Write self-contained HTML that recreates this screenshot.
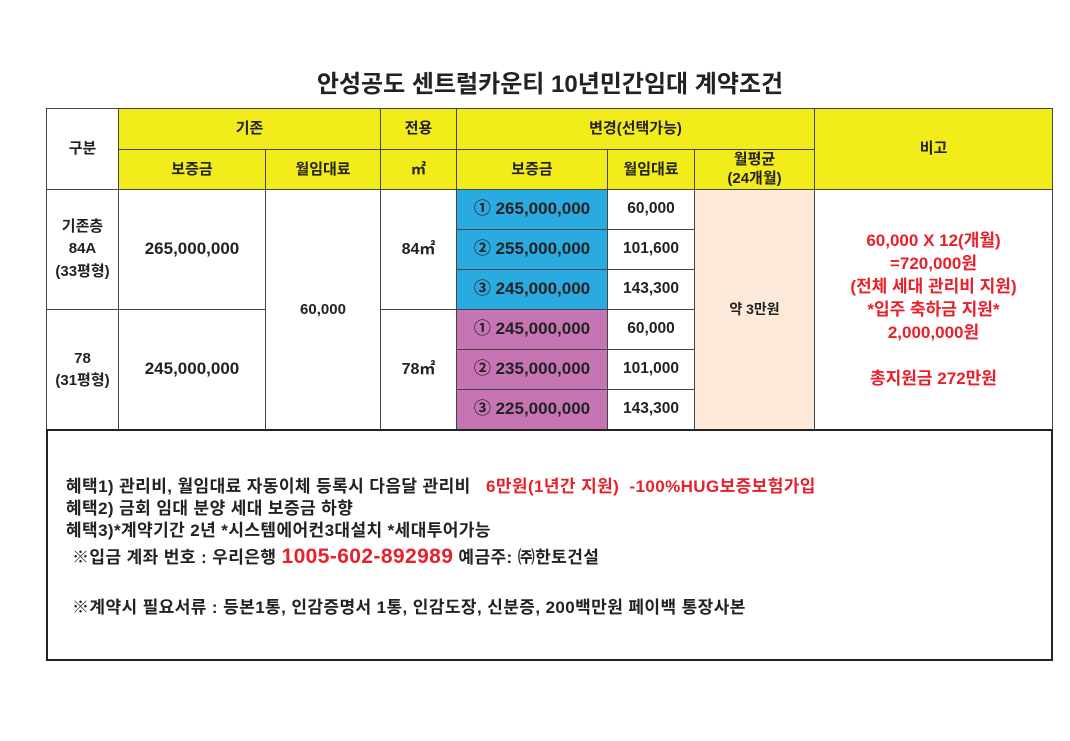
<!DOCTYPE html>
<html><head><meta charset="utf-8">
<style>
body{margin:0;width:1070px;height:741px;background:#fff;position:relative;overflow:hidden;font-family:"Liberation Sans","Noto Sans CJK KR","NanumGothic",sans-serif;color:#222;}
.c{position:absolute;box-sizing:border-box;border:1px solid #444;display:flex;align-items:center;justify-content:center;text-align:center;font-size:15px;font-weight:bold;line-height:1.45;}
.y{background:#f2ec1b;}
.b{background:#29aae1;font-size:17px;}
.p{background:#c774b4;font-size:17px;}
.pe{background:#fde9d9;}
.r{color:#e8202a;}
.rn{font-size:15.5px;}
.t{position:absolute;font-size:17px;letter-spacing:0.4px;font-weight:bold;white-space:nowrap;}
</style></head><body>
<div style="position:absolute;left:0;width:1100px;top:64px;text-align:center;font-size:24px;font-weight:bold;">안성공도 센트럴카운티 10년민간임대 계약조건</div>

<div class="c" style="left:46px;top:108px;width:73px;height:82px;">구분</div>
<div class="c y" style="left:118px;top:108px;width:263px;height:42px;">기존</div>
<div class="c y" style="left:380px;top:108px;width:77px;height:42px;">전용</div>
<div class="c y" style="left:456px;top:108px;width:359px;height:42px;">변경(선택가능)</div>
<div class="c y" style="left:814px;top:108px;width:239px;height:82px;">비고</div>
<div class="c y" style="left:118px;top:149px;width:148px;height:41px;">보증금</div>
<div class="c y" style="left:265px;top:149px;width:116px;height:41px;">월임대료</div>
<div class="c y" style="left:380px;top:149px;width:77px;height:41px;">㎡</div>
<div class="c y" style="left:456px;top:149px;width:152px;height:41px;">보증금</div>
<div class="c y" style="left:607px;top:149px;width:88px;height:41px;">월임대료</div>
<div class="c y" style="left:694px;top:149px;width:121px;height:41px;line-height:1.25;">월평균<br>(24개월)</div>

<div class="c" style="left:46px;top:189px;width:73px;height:121px;line-height:1.5;">기존층<br>84A<br>(33평형)</div>
<div class="c" style="left:46px;top:309px;width:73px;height:121px;">78<br>(31평형)</div>
<div class="c" style="left:118px;top:189px;width:148px;height:121px;font-size:17px;">265,000,000</div>
<div class="c" style="left:118px;top:309px;width:148px;height:121px;font-size:17px;">245,000,000</div>
<div class="c" style="left:265px;top:189px;width:116px;height:241px;">60,000</div>
<div class="c" style="left:380px;top:189px;width:77px;height:121px;font-size:16px;">84㎡</div>
<div class="c" style="left:380px;top:309px;width:77px;height:121px;font-size:16px;">78㎡</div>

<div class="c b" style="left:456px;top:189px;width:152px;height:41px;">① 265,000,000</div>
<div class="c b" style="left:456px;top:229px;width:152px;height:41px;">② 255,000,000</div>
<div class="c b" style="left:456px;top:269px;width:152px;height:41px;">③ 245,000,000</div>
<div class="c p" style="left:456px;top:309px;width:152px;height:41px;">① 245,000,000</div>
<div class="c p" style="left:456px;top:349px;width:152px;height:41px;">② 235,000,000</div>
<div class="c p" style="left:456px;top:389px;width:152px;height:41px;">③ 225,000,000</div>

<div class="c rn" style="left:607px;top:189px;width:88px;height:41px;">60,000</div>
<div class="c rn" style="left:607px;top:229px;width:88px;height:41px;">101,600</div>
<div class="c rn" style="left:607px;top:269px;width:88px;height:41px;">143,300</div>
<div class="c rn" style="left:607px;top:309px;width:88px;height:41px;">60,000</div>
<div class="c rn" style="left:607px;top:349px;width:88px;height:41px;">101,000</div>
<div class="c rn" style="left:607px;top:389px;width:88px;height:41px;">143,300</div>

<div class="c pe" style="left:694px;top:189px;width:121px;height:241px;font-size:14px;">약 3만원</div>
<div class="c r" style="left:814px;top:189px;width:239px;height:241px;font-size:17px;line-height:23px;">60,000 X 12(개월)<br>=720,000원<br>(전체 세대 관리비 지원)<br>*입주 축하금 지원*<br>2,000,000원<br><br>총지원금 272만원</div>

<div style="position:absolute;left:46px;top:429px;width:1007px;height:232px;box-sizing:border-box;border:2px solid #222;"></div>
<div class="t" style="left:66px;top:472px;">혜택1) 관리비, 월임대료 자동이체 등록시 다음달 관리비 &nbsp;&nbsp;<span class="r">6만원(1년간 지원) &nbsp;-100%HUG보증보험가입</span></div>
<div class="t" style="left:66px;top:494px;">혜택2) 금회 임대 분양 세대 보증금 하향</div>
<div class="t" style="left:66px;top:516px;">혜택3)*계약기간 2년 *시스템에어컨3대설치 *세대투어가능</div>
<div class="t" style="left:72px;top:543px;">※입금 계좌 번호 : 우리은행 <span class="r" style="font-size:21px;">1005-602-892989</span> 예금주: ㈜한토건설</div>
<div class="t" style="left:72px;top:593px;">※계약시 필요서류 : 등본1통, 인감증명서 1통, 인감도장, 신분증, 200백만원 페이백 통장사본</div>
</body></html>
